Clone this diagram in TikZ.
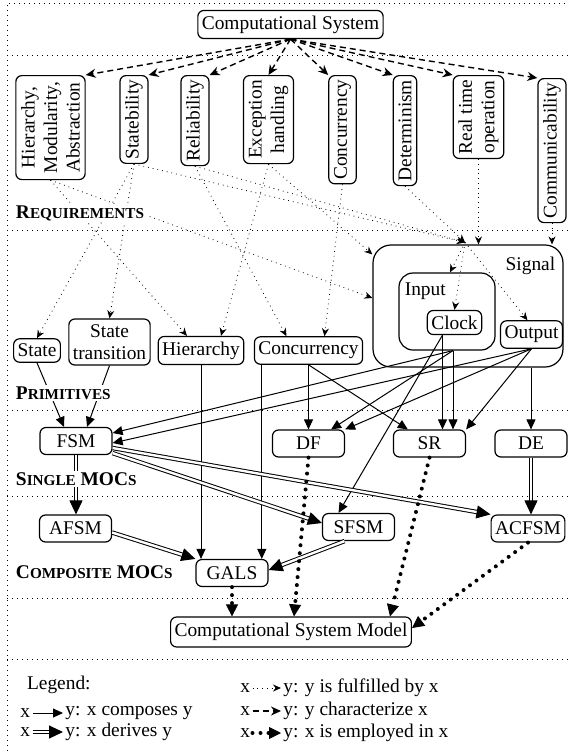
\documentclass[tikz,border=0pt]{standalone}
\usepackage{fontspec}
\setmainfont{Liberation Serif}
\usetikzlibrary{arrows.meta,calc}

\newcommand{\sct}[1]{{\fontsize{7.6}{9}\selectfont #1}}

\tikzset{
  box/.style={draw, rounded corners=3pt, line width=0.6pt, inner xsep=2pt, inner ysep=2.6pt, align=center},
  req/.style={box, rotate=90, anchor=east},
  moc/.style={box, minimum width=36pt, minimum height=13.5pt},
  frame/.style={draw, line width=0.6pt},
  band/.style={dotted, line width=0.5pt},
  tag/.style={anchor=west, fill=white, inner sep=0.8pt, font=\bfseries\fontsize{9.7}{11.3}\selectfont},
  compose/.style={-{Triangle[length=5pt,width=4.5pt]}, line width=0.5pt},
  derive/.style={double, double distance=1.2pt, line width=0.5pt, -{Triangle[length=7pt,width=6.5pt]}},
  employ/.style={line width=2pt, line cap=round, dash pattern=on 0pt off 4pt, -{Triangle[length=6pt,width=6pt,line width=0.4pt]}},
  fulfil/.style={dotted, line width=0.4pt, -{Stealth[length=4pt,width=3.5pt]}},
  character/.style={dash pattern=on 3pt off 2pt, line width=0.7pt, -{Stealth[length=5pt,width=4.5pt]}},
}

\begin{document}
\begin{tikzpicture}[x=0.5pt,y=-0.5pt,font=\fontsize{9.7}{11.3}\selectfont]
  \useasboundingbox (0,0) rectangle (568,751);
  \draw[band] (7,751) -- (7,3) -- (568,3);
  \foreach \y in {55,230,410,496,598,659}
    \draw[band] (7,\y) -- (568,\y);

  \node[box] (cs) at (290.5,24.5) {Computational System};

  % requirements
  \node[req, minimum width=52pt] (hma) at (50.5,75) {Hierarchy,\\Modularity,\\Abstraction};
  \node[req, minimum width=42.5pt] (stab) at (134,75) {Statebility};
  \node[req, minimum width=45pt] (rel) at (195,75) {Reliability};
  \node[req, minimum width=44pt] (exc) at (268.5,75) {Exception\\handling};
  \node[req, minimum width=54pt] (conc) at (342.5,75) {Concurrency};
  \node[req, minimum width=55pt] (det) at (405,75) {Determinism};
  \node[req, minimum width=41pt] (rto) at (478.5,75) {Real time\\operation};
  \node[req, minimum width=72pt] (com) at (552,78) {Communicability};

  % primitives
  \node[box] (state) at (37,350.5) {State};
  \node[box] (sttr) at (109.5,342) {State\\transition};
  \node[box] (hier) at (201,350.5) {Hierarchy};
  \node[box] (conp) at (308.5,350.5) {Concurrency};
  \node[frame, rounded corners=9pt, minimum width=95pt, minimum height=61pt] (signal) at (468,306) {};
  \node[anchor=north east, inner sep=1pt] (sigtxt) at ([xshift=-3pt,yshift=-5pt]signal.north east) {Signal};
  \node[frame, rounded corners=7pt, minimum width=48pt, minimum height=38.5pt] (input) at (447,311.5) {};
  \node[anchor=north west, inner sep=1pt] (intxt) at ([xshift=2pt,yshift=-4pt]input.north west) {Input};
  \node[box] (clock) at (454.5,322.5) {Clock};
  \node[box] (output) at (531.5,334.5) {Output};
  \coordinate (hub) at ([xshift=-1.5pt,yshift=1pt]signal.north);

  % models of computation
  \node[moc] (fsm) at (76,441) {FSM};
  \node[moc] (df) at (308.5,443.5) {DF};
  \node[moc] (sr) at (429.5,443.5) {SR};
  \node[moc] (de) at (531,443.5) {DE};
  \node[moc] (afsm) at (75.5,528.5) {AFSM};
  \node[moc] (sfsm) at (358.5,527) {SFSM};
  \node[moc] (acfsm) at (528,528.5) {ACFSM};
  \node[moc] (gals) at (232,573) {GALS};
  \node[box, minimum height=15pt] (csm) at (291,632) {Computational System Model};

  \foreach \r/\p in {hma/south east, stab/south east, rel/south east, exc/east,
                     conc/north east, det/north east, rto/north east, com/north east}
    \draw[character] (cs.south) -- (\r.\p);

  \draw[fulfil] (hma.west) -- ([xshift=-7pt]hier.north);
  \draw[fulfil] (hma.west) -- ([yshift=4pt]signal.west);
  \draw[fulfil] (stab.west) -- (state.north);
  \draw[fulfil] (stab.west) -- (sttr.north);
  \draw[fulfil] (stab.west) -- (hub);
  \draw[fulfil] (rel.west) -- ([xshift=-11pt]conp.north);
  \draw[fulfil] (rel.west) -- (hub);
  \draw[fulfil] (exc.west) -- ([xshift=10pt]hier.north);
  \draw[fulfil] (exc.west) -- ([yshift=-5pt]signal.north west);
  \draw[fulfil] (conc.west) -- ([xshift=8pt]conp.north);
  \draw[fulfil] (det.west) -- (hub);
  \draw[fulfil] (rto.west) -- (rto.west |- signal.north);
  \draw[fulfil] (com.west) -- (com.west |- signal.north);
  \draw[fulfil] (hub) -- ([xshift=1.5pt]input.north);
  \draw[fulfil] (hub) -- (clock.north);
  \draw[fulfil] (hub) -- ([xshift=-2pt]output.north);

  \draw[compose] (state.south) -- ([xshift=-6pt]fsm.north);
  \draw[compose] (sttr.south) -- ([xshift=5.5pt]fsm.north);
  \draw[compose] (hier.south) -- (hier.south |- gals.north);
  \draw[compose] ([xshift=4pt]conp.south west) -- ([xshift=4pt]conp.south west |- gals.north);
  \draw[compose] (conp.south) -- (df.north);
  \draw[compose] (conp.south) -- (sr);
  \draw[compose] ([xshift=3pt]input.south) -- ([yshift=4pt]fsm.east);
  \draw[compose] (output.south) -- ([yshift=-1pt]fsm.east);
  \draw[compose] ([xshift=3pt]input.south) -- ([xshift=-7pt]df.north east);
  \draw[compose] (output.south) -- (df.north east);
  \draw[compose] ([xshift=-6pt]clock.south) -- ([xshift=-6pt]clock.south |- sr.north);
  \draw[compose] ([xshift=3pt]input.south) -- ([xshift=3pt]input.south |- sr.north);
  \draw[compose] (output.south) -- (sr.north east);
  \draw[compose] ([xshift=-6pt]clock.south) -- ([xshift=-10pt]sfsm.north);
  \draw[compose] (signal.south -| de) -- (de.north);

  \draw[derive] (fsm.south) -- (fsm.south |- afsm.north);
  \draw[derive] ([yshift=1pt]fsm.south east) -- ([yshift=2pt]sfsm.west);
  \draw[derive] ([yshift=-3.5pt]fsm.east) -- (acfsm.north west);
  \draw[derive] (de.south) -- (de.south |- acfsm.north);
  \draw[derive] ([yshift=-2pt]afsm.east) -- (gals.north west);
  \draw[derive] ([xshift=-7pt]sfsm.south) -- ([yshift=1.5pt]gals.east);

  \draw[employ] (gals.south) -- (gals.south |- csm.north);
  \draw[employ] (df.south) -- ([xshift=1.5pt]csm.north);
  \draw[employ] (sr.south) -- ([xshift=49.5pt]csm.north);
  \draw[employ] (acfsm.south) -- ([yshift=2pt]csm.east);

  \node[tag] (treq) at (14,213) {R\sct{EQUIREMENTS}};
  \node[tag] (tprim) at (14,393) {P\sct{RIMITIVES}};
  \node[tag] (tsing) at (14,479) {S\sct{INGLE} MOC\sct{S}};
  \node[tag] (tcomp) at (14,572) {C\sct{OMPOSITE} MOC\sct{S}};

  % legend
  \node[anchor=west] (legend) at (20,685) {Legend:};
  \node[anchor=west, inner sep=1pt] (cx) at (18,713) {x};
  \node[anchor=west, inner sep=1pt] (cy) at (63,713) {y: x composes y};
  \draw[compose] (cx) -- (cy);
  \node[anchor=west, inner sep=1pt] (dx) at (18,732) {x};
  \node[anchor=west, inner sep=1pt] (dy) at (63,732) {y: x derives y};
  \draw[derive] (dx) -- (dy);
  \node[anchor=west, inner sep=1pt] (fx) at (238,688) {x};
  \node[anchor=west, inner sep=1pt] (fy) at (281,688) {y: y is fulfilled by x};
  \draw[fulfil] (fx) -- (fy);
  \node[anchor=west, inner sep=1pt] (kx) at (238,711) {x};
  \node[anchor=west, inner sep=1pt] (ky) at (281,711) {y: y characterize x};
  \draw[character] (kx) -- (ky);
  \node[anchor=west, inner sep=1pt] (ex) at (238,733) {x};
  \node[anchor=west, inner sep=1pt] (ey) at (281,733) {y: x is employed in x};
  \draw[employ] (ex) -- (ey);
\end{tikzpicture}
\end{document}
